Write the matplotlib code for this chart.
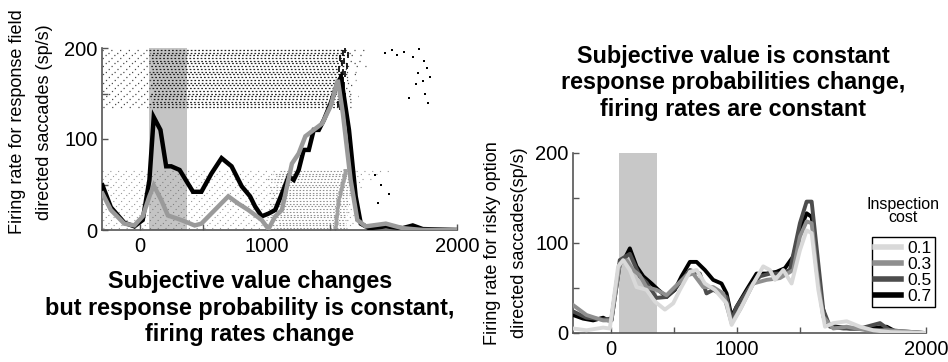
import matplotlib
matplotlib.use('Agg')
import matplotlib.pyplot as plt
from matplotlib.lines import Line2D

plt.rcParams['font.family'] = ['Liberation Sans', 'DejaVu Sans']

# left panel: mean firing rates (time ms, rate sp/s)
left_t = [-296, -230, -124, -45, 21, 74, 108, 161, 206, 246, 312, 378, 418, 484, 563, 643,
          722, 802, 868, 907, 960, 1013, 1066, 1119, 1172, 1212, 1251, 1291, 1331, 1370,
          1410, 1450, 1503, 1556, 1585, 1648, 1701, 1741, 1807, 1939, 2071, 2151, 2230, 2508]
left_black = [49, 25, 8, 4, 11, 55, 124, 110, 70, 70, 66, 51, 42, 42, 62, 79,
              70, 48, 37, 26, 15, 18, 22, 40, 59, 55, 66, 88, 88, 110,
              110, 121, 139, 161, 168, 110, 37, 7, 2, 4, 2, 5, 1, 0]
left_gray_t = [-296, -230, -124, -45, 21, 74, 108, 167, 220, 325, 431, 484, 590, 696, 775,
               854, 960, 1013, 1066, 1119, 1198, 1251, 1304, 1370, 1437, 1503, 1560, 1600,
               1661, 1714, 1780, 1939, 2071, 2230, 2508]
left_gray = [40, 22, 7, 5, 15, 37, 49, 33, 16, 11, 5, 7, 22, 37, 29,
             22, 11, 1, 15, 22, 73, 84, 103, 110, 117, 136, 165, 128,
             55, 11, 4, 7, 2, 0, 0]

# raster rows: y position, dense-part start, saccade time, last spike
black_rows_y = [198, 195, 192, 189, 186, 183, 180, 177, 174, 171, 168, 165, 162, 159,
                156, 153, 150, 147, 144, 141, 138, 135]
black_rows_start = [70, 80, 75, 90, 70, 85, 75, 95, 80, 70, 85, 75, 90, 80,
                    70, 95, 80, 75, 90, 85, 70, 80]
black_rows_sacc = [1620, 1600, 1640, 1580, 1610, 1590, 1630, 1570, 1600, 1620, 1580,
                   1600, 1560, 1610, 1590, 1570, 1600, 1620, 1580, 1600, 1560, 1580]
black_rows_end = [1780, 1700, 1780, 1650, 1760, 1700, 1780, 1660, 1700, 1750, 1680,
                  1700, 1650, 1720, 1690, 1660, 1700, 1720, 1680, 1700, 1650, 1680]
gray_rows_y = [65, 62, 59, 56, 53, 50, 47, 44, 41, 38, 35, 32, 29, 26, 23, 20, 17, 14,
               11, 8, 5, 2]
gray_rows_start = [1100, 1050, 1080, 1000, 1060, 1100, 1020, 1070, 1000, 1090, 1040, 1080,
                   1010, 1060, 1100, 1030, 1070, 1000, 1050, 1090, 1020, 1060]
gray_rows_sacc = [1620, 1615, 1610, 1605, 1600, 1595, 1590, 1585, 1580, 1575, 1570, 1565,
                  1562, 1558, 1555, 1552, 1550, 1548, 1546, 1544, 1542, 1540]
gray_rows_end = [2000, 1900, 1760, 1820, 1780, 1700, 1750, 1700, 1720, 1700, 1700, 1690,
                 1700, 1680, 1700, 1680, 1690, 1680, 1700, 1680, 1690, 1680]
late_x = [1930, 1990, 2030, 2080, 2150, 2200, 2260, 2290, 2180, 2230, 2120, 2250, 2270,
          2190, 2240, 1850, 1900, 1960, 1880]
late_y = [194, 198, 192, 196, 190, 199, 178, 168, 160, 164, 145, 150, 140, 172, 186,
          60, 50, 40, 30]

# right panel: firing rates by inspection cost
costs = ['0.1', '0.3', '0.5', '0.7']
t_01 = [-299, -193, -61, -8, 58, 98, 151, 204, 283, 349, 429, 495, 548, 627, 680, 746,
        825, 918, 958, 1037, 1130, 1209, 1262, 1302, 1368, 1434, 1500, 1553, 1593, 1646,
        1699, 1765, 1871, 1977, 2082, 2214, 2492]
r_01 = [5, 3, 6, 5, 74, 81, 70, 51, 48, 35, 26, 33, 48, 68, 70, 55,
        48, 33, 9, 29, 55, 74, 70, 59, 70, 55, 92, 114, 111, 48,
        7, 11, 13, 7, 3, 1, 0]
t_03 = [-299, -193, -61, 5, 71, 124, 177, 230, 283, 362, 442, 521, 601, 653, 733, 812,
        892, 958, 1024, 1130, 1235, 1341, 1447, 1500, 1553, 1593, 1632, 1685, 1765, 1871,
        2029, 2214, 2492]
r_03 = [31, 20, 14, 14, 77, 81, 70, 64, 51, 48, 42, 53, 64, 66, 51, 51,
        44, 11, 26, 55, 59, 61, 70, 107, 124, 122, 70, 18, 5, 7,
        3, 3, 0]
t_05 = [-299, -193, -61, 5, 71, 151, 230, 283, 362, 442, 521, 627, 706, 759, 812, 918,
        958, 997, 1103, 1183, 1262, 1341, 1421, 1500, 1553, 1593, 1646, 1685, 1738, 1844,
        1977, 2135, 2214, 2492]
r_05 = [24, 17, 15, 16, 81, 88, 63, 56, 39, 40, 51, 70, 66, 44, 48, 40,
        14, 29, 51, 63, 66, 66, 70, 122, 146, 146, 77, 26, 7, 5,
        5, 11, 3, 0]
t_07 = [-299, -220, -140, -61, -21, 5, 71, 111, 151, 204, 257, 323, 376, 442, 508, 561,
        627, 680, 746, 812, 878, 918, 958, 997, 1077, 1156, 1235, 1315, 1381, 1447,
        1500, 1553, 1593, 1632, 1672, 1712, 1791, 1897, 2029, 2188, 2267, 2492]
r_07 = [20, 16, 14, 17, 14, 14, 77, 83, 94, 74, 63, 55, 48, 40, 48, 63,
        79, 79, 70, 59, 55, 44, 18, 29, 48, 66, 66, 68, 72, 85,
        114, 133, 129, 85, 33, 11, 7, 5, 5, 7, 1, 0]
cost_colors = ['#d9d9d9', '#8f8f8f', '#4d4d4d', '#000000']

cue_start, cue_end = 70, 370

fig = plt.figure(figsize=(9.48, 3.62), dpi=100)
W, H = 948.0, 362.0


def sparse(i):
    # shift dot pattern per row so the dots don't line up into columns
    return ((i * 2.3) % 7, (1, 6))


def dense(i):
    return ((i * 0.9) % 3, (1.4, 1.6))


# ---- left panel
ax1 = fig.add_axes([102 / W, 1 - 230 / H, 355 / W, 182 / H])
ax1.axvspan(cue_start, cue_end, color='#c4c4c4', lw=0, zorder=0)
rows = zip(black_rows_y, black_rows_start, black_rows_sacc, black_rows_end)
for i, (y, s, sc, e) in enumerate(rows):
    ax1.plot([-300, s], [y, y], color='black', lw=0.9, ls=sparse(i), alpha=0.7, zorder=1)
    ax1.plot([s, sc], [y, y], color='black', lw=0.9, ls=dense(i), alpha=0.85, zorder=1)
    ax1.plot([sc, e], [y, y], color='black', lw=0.9, ls=sparse(i + 3), alpha=0.7, zorder=1)
    ax1.plot(sc, y, marker='|', ms=4, mew=1.2, color='black', zorder=2)
rows = zip(gray_rows_y, gray_rows_start, gray_rows_sacc, gray_rows_end)
for i, (y, s, sc, e) in enumerate(rows):
    ax1.plot([-300, s], [y, y], color='#555555', lw=0.8, ls=sparse(i), alpha=0.6, zorder=1)
    ax1.plot([s, sc + 80], [y, y], color='#555555', lw=0.8, ls=dense(i), alpha=0.65, zorder=1)
    ax1.plot([sc + 80, e], [y, y], color='#555555', lw=0.8, ls=sparse(i + 3), alpha=0.6, zorder=1)
    ax1.plot(sc, y, marker='v', ms=2.5, color='#a0a0a0', zorder=2)
ax1.scatter(late_x, late_y, s=1.5, marker='s', color='black', lw=0, zorder=1)
ax1.plot(left_t, left_black, color='black', lw=3.2, zorder=4, solid_joinstyle='miter')
ax1.plot(left_gray_t, left_gray, color='#9a9a9a', lw=3.2, zorder=5, solid_joinstyle='miter')

# ---- right panel
ax2 = fig.add_axes([573 / W, 1 - 333 / H, 353 / W, 180 / H])
ax2.axvspan(cue_start - 5, cue_end - 5, color='#c8c8c8', lw=0, zorder=0)
series = [(t_01, r_01), (t_03, r_03), (t_05, r_05), (t_07, r_07)]
for i in [3, 2, 1, 0]:
    t, r = series[i]
    ax2.plot(t, r, color=cost_colors[i], lw=2.8, zorder=3 + (3 - i))

for ax in (ax1, ax2):
    ax.set_xlim(-300, 2500)
    ax.set_ylim(0, 200)
    ax.set_xticks([0, 500, 1000, 1500, 2500])
    ax.set_xticklabels(['0', '', '1000', '', '2000'])
    ax.set_yticks([0, 50, 100, 150, 200])
    ax.set_yticklabels(['0', '', '100', '', '200'])
    ax.spines['top'].set_visible(False)
    ax.spines['right'].set_visible(False)
    for sp in ('left', 'bottom'):
        ax.spines[sp].set_color('#555555')
        ax.spines[sp].set_linewidth(1.2)
    ax.tick_params(direction='in', length=4, width=1, color='#555555',
                   labelsize=14.5, pad=3)
    ax.tick_params(axis='x', pad=5)

handles = [Line2D([0], [0], color=c, lw=4) for c in cost_colors]
leg = ax2.legend(handles, costs, loc='upper right', bbox_to_anchor=(935 / W, 1 - 237 / H),
                 bbox_transform=fig.transFigure, fontsize=12.5, frameon=True, fancybox=False,
                 edgecolor='black', framealpha=1, handlelength=1.5, handletextpad=0.35,
                 borderpad=0.2, labelspacing=0.05, borderaxespad=0)
leg.get_frame().set_linewidth(1.0)
leg.set_zorder(10)
fig.text(903 / W, 1 - 211 / H, 'Inspection\ncost', ha='center', va='center',
         fontsize=11.5, linespacing=0.9)

# labels and panel captions
fig.text(31 / W, 1 - 122 / H, 'Firing rate for response field\ndirected saccades (sp/s)',
         rotation=90, ha='center', va='center', fontsize=13, linespacing=1.75)
fig.text(506 / W, 1 - 243 / H, 'Firing rate for risky option\ndirected saccades(sp/s)',
         rotation=90, ha='center', va='center', fontsize=13, linespacing=1.75)
fig.text(250 / W, 1 - 308 / H,
         'Subjective value changes\nbut response probability is constant,\nfiring rates change',
         ha='center', va='center', fontsize=16.8, fontweight='bold', linespacing=1.2)
fig.text(733 / W, 1 - 83 / H,
         'Subjective value is constant\nresponse probabilities change,\nfiring rates are constant',
         ha='center', va='center', fontsize=16.8, fontweight='bold', linespacing=1.2)

fig.savefig('out.png', dpi=100)
